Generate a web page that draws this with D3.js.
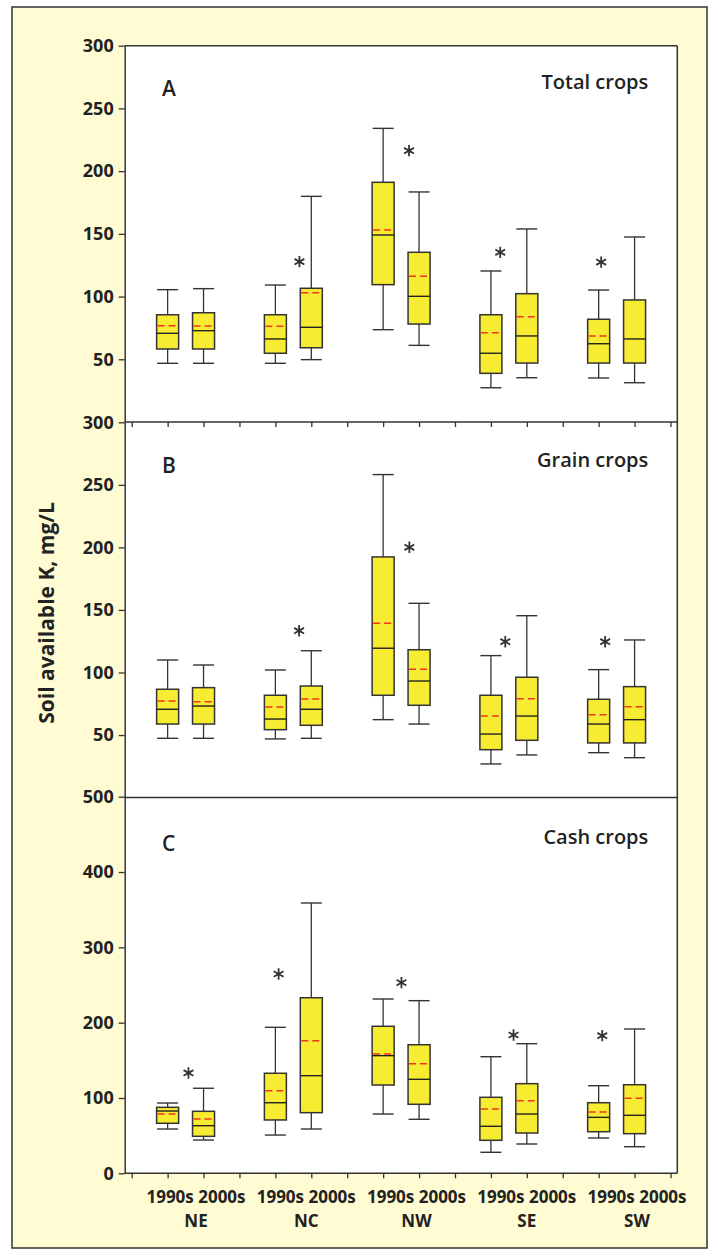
<!DOCTYPE html>
<html><head><meta charset="utf-8">
<script src="https://cdn.jsdelivr.net/npm/d3@7"></script>
<style>
html,body{margin:0;padding:0;background:#fff;}
svg{display:block;}
text{font-family:"Open Sans",sans-serif;fill:#222;}
</style></head>
<body>
<svg id="chart" width="709" height="1249"></svg>
<script>
// ---- categories ----
const regions = ["NE","NC","NW","SE","SW"];
const decades = ["1990s","2000s"];
const panelLetters = ["A","B","C"];
const panelTitles = ["Total crops","Grain crops","Cash crops"];
const yTitle = "Soil available K, mg/L";

// ---- tick labels ----
const ticksA = [50,100,150,200,250,300];
const ticksB = [50,100,150,200,250,300];
const ticksC = [0,100,200,300,400,500];

// ---- Panel A: Total crops (order: NE90, NE00, NC90, NC00, NW90, NW00, SE90, SE00, SW90, SW00) ----
const totalHigh   = [105.5,106.3,109.2,179.9,234.1,183.4,120.4,153.9,105.2,147.5];
const totalQ3     = [85.5, 87.1, 85.5, 106.6,191.1,135.3,85.5, 102.3,81.9, 97.3];
const totalMedian = [70.7, 72.8, 66.2, 75.5, 149.1,100.2,54.8, 68.6, 62.4, 66.2];
const totalMean   = [76.8, 76.5, 76.3, 103.1,153.1,116.1,71.2, 83.9, 68.6, null];
const totalQ1     = [58.2, 58.2, 54.8, 59.2, 109.5,78.1, 38.8, 47.0, 47.0, 47.0];
const totalLow    = [46.8, 46.8, 46.8, 49.7, 73.6, 61.1, 27.3, 35.3, 35.1, 31.3];
const totalStarX  = [4.67, 7.72, 10.26, 13.07];
const totalStarY  = [127.8, 216.3, 135.3, 127.5];

// ---- Panel B: Grain crops ----
const grainHigh   = [110.0,106.0,102.0,117.4,258.2,155.3,113.5,145.4,102.3,126.0];
const grainQ3     = [86.6, 87.9, 81.8, 89.2, 192.4,118.2,81.8, 96.2, 78.6, 88.7];
const grainMedian = [70.6, 73.2, 62.8, 70.6, 119.4,93.2, 50.8, 65.2, 58.8, 62.3];
const grainMean   = [77.2, 76.7, 72.4, 78.8, 139.3,102.6,65.2, 79.1, 66.3, 72.7];
const grainQ1     = [58.8, 58.8, 54.3, 57.8, 81.8, 73.8, 38.3, 45.8, 43.7, 43.7];
const grainLow    = [47.4, 47.4, 46.9, 47.4, 62.3, 58.8, 26.9, 34.1, 35.9, 31.9];
const grainStarX  = [4.66, 7.73, 10.40, 13.18];
const grainStarY  = [133.4, 200.1, 124.6, 124.6];

// ---- Panel C: Cash crops ----
const cashHigh    = [93.3, 112.9,193.8,358.9,231.4,229.2,154.8,172.1,116.3,191.6];
const cashQ3      = [87.6, 82.3, 132.8,233.1,195.2,170.7,100.9,119.0,93.7, 117.6];
const cashMedian  = [82.7, 63.2, 93.7, 129.6,156.2,124.8,62.4, 78.7, 74.3, 77.0];
const cashMean    = [78.7, 72.1, 109.7,176.1,158.4,145.5,85.4, 96.4, 81.4, 99.6];
const cashQ1      = [66.4, 49.1, 70.8, 80.5, 117.2,91.6, 43.8, 53.5, 55.2, 52.6];
const cashLow     = [58.8, 44.2, 50.8, 58.8, 78.7, 71.7, 27.9, 38.9, 46.9, 35.3];
const cashStarX   = [1.58, 4.09, 7.51, 10.63, 13.10];
const cashStarY   = [133.2, 264.6, 253.1, 183.6, 182.7];

// ---- build panel tables ----
function rows(high,q3,med,mean,q1,low){
  return high.map((h,i)=>({region:regions[Math.floor(i/2)], decade:decades[i%2], idx:i,
    high:h, q3:q3[i], median:med[i], mean:mean[i], q1:q1[i], low:low[i]}));
}
const panels = [
  {data:rows(totalHigh,totalQ3,totalMedian,totalMean,totalQ1,totalLow), domain:[0,300], ticks:ticksA,
   stars:totalStarX.map((x,i)=>({x, v:totalStarY[i]})), bottomTicks:true},
  {data:rows(grainHigh,grainQ3,grainMedian,grainMean,grainQ1,grainLow), domain:[0,300], ticks:ticksB,
   stars:grainStarX.map((x,i)=>({x, v:grainStarY[i]})), bottomTicks:false},
  {data:rows(cashHigh,cashQ3,cashMedian,cashMean,cashQ1,cashLow), domain:[0,500], ticks:ticksC,
   stars:cashStarX.map((x,i)=>({x, v:cashStarY[i]})), bottomTicks:true}
];

// ---- layout ----
const W = 709, H = 1249;
const plotL = 124.7, plotR = 677.3, plotT = 45.7, plotB = 1173.3;
const panelEdges = [[45.7, 422.0],[422.3, 797.6],[796.7, 1173.3]];
const bg = "#FFFBD3", boxFill = "#F8EC32", ink = "#333333", meanColor = "#F0361E";

const svg = d3.select("#chart");
svg.append("rect").attr("x",12).attr("y",7).attr("width",695).attr("height",1241)
  .attr("fill",bg).attr("stroke",ink).attr("stroke-width",1.5);
svg.append("rect").attr("x",plotL).attr("y",plotT).attr("width",plotR-plotL).attr("height",plotB-plotT)
  .attr("fill","#fff");

const x = d3.scaleLinear().domain([0,15]).range([131.7,670.5]);
const slot = i => 1 + 3*Math.floor(i/2) + (i%2);
const boxW = 22, capW = 21;

panels.forEach((p,pi)=>{
  const [top,bot] = panelEdges[pi];
  const y = d3.scaleLinear().domain(p.domain).range([bot, top]);
  const g = svg.append("g");

  // left axis
  const ax = g.append("g").attr("transform",`translate(${plotL},0)`)
    .call(d3.axisLeft(y).tickValues(p.ticks).tickSize(6).tickSizeOuter(0).tickPadding(5));
  ax.select(".domain").attr("stroke",ink).attr("stroke-width",1.5);
  ax.selectAll(".tick line").attr("stroke",ink).attr("stroke-width",1.3);
  ax.selectAll(".tick text").attr("font-size",18).attr("font-weight",700)
    .attr("fill","#222").style("font-family","'Open Sans',sans-serif");

  // bottom axis / separator
  if (p.bottomTicks) {
    const bx = g.append("g").attr("transform",`translate(0,${bot})`)
      .call(d3.axisBottom(x).tickValues(d3.range(0,16)).tickSize(5).tickSizeOuter(0).tickFormat(""));
    bx.select(".domain").remove();
    bx.selectAll(".tick line").attr("stroke",ink).attr("stroke-width",1.3);
  }
  g.append("line").attr("x1",plotL).attr("x2",plotR).attr("y1",bot).attr("y2",bot)
    .attr("stroke",ink).attr("stroke-width",1.5);

  // boxes
  const b = g.selectAll(".box").data(p.data).join("g").attr("class","box")
    .attr("transform",d=>`translate(${x(slot(d.idx))},0)`);
  b.append("line").attr("y1",d=>y(d.high)).attr("y2",d=>y(d.q3)).attr("stroke",ink).attr("stroke-width",1.3);
  b.append("line").attr("y1",d=>y(d.q1)).attr("y2",d=>y(d.low)).attr("stroke",ink).attr("stroke-width",1.3);
  b.append("line").attr("x1",-capW/2).attr("x2",capW/2).attr("y1",d=>y(d.high)).attr("y2",d=>y(d.high))
    .attr("stroke",ink).attr("stroke-width",1.4);
  b.append("line").attr("x1",-capW/2).attr("x2",capW/2).attr("y1",d=>y(d.low)).attr("y2",d=>y(d.low))
    .attr("stroke",ink).attr("stroke-width",1.4);
  b.append("rect").attr("x",-boxW/2).attr("width",boxW)
    .attr("y",d=>y(d.q3)).attr("height",d=>y(d.q1)-y(d.q3))
    .attr("fill",boxFill).attr("stroke",ink).attr("stroke-width",1.5);
  b.append("line").attr("x1",-boxW/2).attr("x2",boxW/2).attr("y1",d=>y(d.median)).attr("y2",d=>y(d.median))
    .attr("stroke","#222").attr("stroke-width",1.4);
  b.filter(d=>d.mean!=null).append("line").attr("x1",-boxW/2+1).attr("x2",boxW/2-1)
    .attr("y1",d=>y(d.mean)).attr("y2",d=>y(d.mean))
    .attr("stroke",meanColor).attr("stroke-width",1.5).attr("stroke-dasharray","7,4");

  // significance asterisks
  g.selectAll(".star").data(p.stars).join("path").attr("class","star")
    .attr("d", d3.symbol(d3.symbolAsterisk, 90))
    .attr("transform",d=>`translate(${x(d.x)},${y(d.v)})`)
    .attr("fill","none").attr("stroke",ink).attr("stroke-width",1.8);

  // panel letter & title
  const letterY = [96, 473.3, 850.5][pi];
  const titleY = [89.3, 466.7, 844][pi];
  g.append("text").attr("x",162).attr("y",letterY).attr("font-size",21).attr("font-weight",600)
    .text(panelLetters[pi]);
  g.append("text").attr("x",648.3).attr("y",titleY).attr("text-anchor","end")
    .attr("font-size",20).attr("font-weight",600).text(panelTitles[pi]);
});

// right & top border of plot
svg.append("line").attr("x1",plotR).attr("x2",plotR).attr("y1",plotT).attr("y2",plotB)
  .attr("stroke",ink).attr("stroke-width",1.5);
svg.append("line").attr("x1",plotL).attr("x2",plotR).attr("y1",plotT).attr("y2",plotT)
  .attr("stroke",ink).attr("stroke-width",1.5);

// x labels
const xl = d3.scalePoint().domain(regions).range([196,637]);
const lab = svg.append("g");
lab.selectAll(".dec").data(regions).join("text").attr("class","dec")
  .attr("x",d=>xl(d)).attr("y",1203.3).attr("text-anchor","middle")
  .attr("font-size",17).attr("font-weight",700).text(decades.join(" "));
lab.selectAll(".reg").data(regions).join("text").attr("class","reg")
  .attr("x",d=>xl(d)).attr("y",1226.7).attr("text-anchor","middle")
  .attr("font-size",17).attr("font-weight",700).text(d=>d);

// y title
svg.append("text").attr("transform","translate(54,613) rotate(-90)").attr("text-anchor","middle")
  .attr("font-size",21).attr("font-weight",700).text(yTitle);
</script>
</body></html>
